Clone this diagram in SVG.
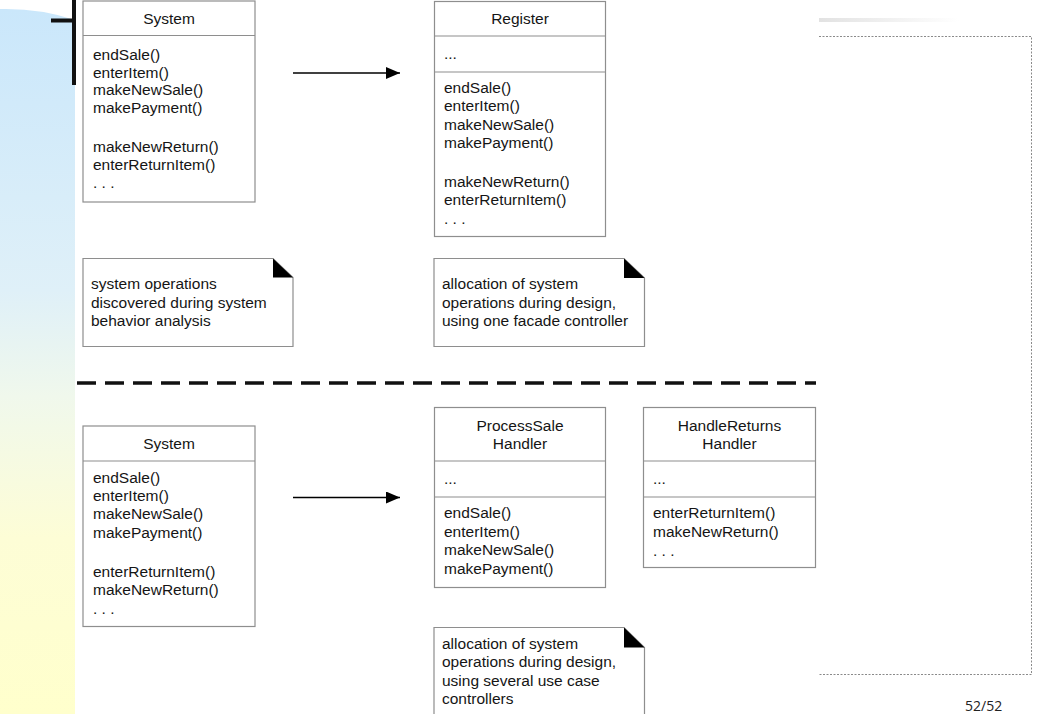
<svg xmlns="http://www.w3.org/2000/svg" width="1037" height="714" viewBox="0 0 1037 714">
<defs>
<linearGradient id="strip" x1="0" y1="0" x2="0" y2="1">
<stop offset="0" stop-color="#cae7fb"/>
<stop offset="0.4" stop-color="#dff0f8"/>
<stop offset="0.55" stop-color="#f0f8ec"/>
<stop offset="0.75" stop-color="#fdfdd6"/>
<stop offset="1" stop-color="#ffffcc"/>
</linearGradient>
<linearGradient id="bar" x1="0" y1="0" x2="1" y2="0">
<stop offset="0" stop-color="#e2e2e2"/>
<stop offset="1" stop-color="#ffffff"/>
</linearGradient>
<marker id="arr" viewBox="0 0 14 12" refX="14" refY="6" markerWidth="14" markerHeight="12" markerUnits="userSpaceOnUse" orient="auto">
<path d="M0,0 L14,6 L0,12 Z" fill="#000"/>
</marker>
<style>
.box{fill:#fff;stroke:#8e8e8e;stroke-width:1.2}
.div{stroke:#8e8e8e;stroke-width:1.2}
.t{font-family:"Liberation Sans",Arial,sans-serif;font-size:15.5px;fill:#151515}
.c{text-anchor:middle}
.fold{fill:#000}
.frame{fill:none;stroke:#8a8a8a;stroke-width:1;stroke-dasharray:2 1.5}
</style>
</defs>
<rect width="1037" height="714" fill="#fff"/>
<path d="M0,9 Q40,8 75,20 L75,714 L0,714 Z" fill="url(#strip)"/>
<rect x="819" y="18" width="140" height="4" fill="url(#bar)"/>
<path class="frame" d="M819,36.5 L1031.5,36.5 L1031.5,674.5 L819,674.5"/>
<path d="M51,20.5 L74,20.5 M74,0 L74,85" stroke="#111" stroke-width="4" fill="none"/>

<g id="system-top">
<rect class="box" x="83" y="1" width="172" height="201"/>
<line class="div" x1="83" y1="35.5" x2="255" y2="35.5"/>
<text class="t c" x="169" y="23.5">System</text>
<text class="t" x="93" y="60">endSale()</text>
<text class="t" x="93" y="77.5">enterItem()</text>
<text class="t" x="93" y="95">makeNewSale()</text>
<text class="t" x="93" y="112.5">makePayment()</text>
<text class="t" x="93" y="152">makeNewReturn()</text>
<text class="t" x="93" y="169.5">enterReturnItem()</text>
<text class="t" x="93" y="188">. . .</text>
</g>

<g id="register">
<rect class="box" x="434.5" y="1.5" width="171" height="235"/>
<line class="div" x1="434.5" y1="36" x2="605.5" y2="36"/>
<line class="div" x1="434.5" y1="72" x2="605.5" y2="72"/>
<text class="t c" x="520" y="23.5">Register</text>
<text class="t" x="444" y="59">...</text>
<text class="t" x="444" y="93">endSale()</text>
<text class="t" x="444" y="111">enterItem()</text>
<text class="t" x="444" y="129.5">makeNewSale()</text>
<text class="t" x="444" y="148">makePayment()</text>
<text class="t" x="444" y="186.5">makeNewReturn()</text>
<text class="t" x="444" y="205">enterReturnItem()</text>
<text class="t" x="444" y="224">. . .</text>
</g>

<g id="note-analysis">
<path class="box" d="M83,258.5 L273,258.5 L293,277.5 L293,346.5 L83,346.5 Z"/>
<path class="fold" d="M273,258.5 L293,277.5 L273,277.5 Z"/>
<text class="t" x="91" y="289">system operations</text>
<text class="t" x="91" y="307.5">discovered during system</text>
<text class="t" x="91" y="326">behavior analysis</text>
</g>

<g id="note-facade">
<path class="box" d="M434,258.5 L624,258.5 L644.5,278 L644.5,346.5 L434,346.5 Z"/>
<path class="fold" d="M624,258.5 L644.5,278 L624,278 Z"/>
<text class="t" x="442" y="289">allocation of system</text>
<text class="t" x="442" y="307.5">operations during design,</text>
<text class="t" x="442" y="326">using one facade controller</text>
</g>

<g id="separator">
<line x1="77" y1="383" x2="816" y2="383" stroke="#111" stroke-width="3.5" stroke-dasharray="19 9"/>
</g>

<g id="system-bottom">
<rect class="box" x="83" y="426" width="172" height="200.5"/>
<line class="div" x1="83" y1="461" x2="255" y2="461"/>
<text class="t c" x="169" y="448.5">System</text>
<text class="t" x="93" y="482.5">endSale()</text>
<text class="t" x="93" y="500.5">enterItem()</text>
<text class="t" x="93" y="519">makeNewSale()</text>
<text class="t" x="93" y="537.5">makePayment()</text>
<text class="t" x="93" y="576.5">enterReturnItem()</text>
<text class="t" x="93" y="595">makeNewReturn()</text>
<text class="t" x="93" y="613.5">. . .</text>
</g>

<g id="processsale-handler">
<rect class="box" x="434.5" y="407.5" width="171" height="180"/>
<line class="div" x1="434.5" y1="461" x2="605.5" y2="461"/>
<line class="div" x1="434.5" y1="497" x2="605.5" y2="497"/>
<text class="t c" x="520" y="430.5">ProcessSale</text>
<text class="t c" x="520" y="448.5">Handler</text>
<text class="t" x="444" y="484">...</text>
<text class="t" x="444" y="518">endSale()</text>
<text class="t" x="444" y="536.5">enterItem()</text>
<text class="t" x="444" y="555">makeNewSale()</text>
<text class="t" x="444" y="573.5">makePayment()</text>
</g>

<g id="handlereturns-handler">
<rect class="box" x="643.5" y="407.5" width="172" height="160"/>
<line class="div" x1="643.5" y1="461" x2="815.5" y2="461"/>
<line class="div" x1="643.5" y1="497" x2="815.5" y2="497"/>
<text class="t c" x="729.5" y="430.5">HandleReturns</text>
<text class="t c" x="729.5" y="448.5">Handler</text>
<text class="t" x="653" y="484">...</text>
<text class="t" x="653" y="518">enterReturnItem()</text>
<text class="t" x="653" y="536.5">makeNewReturn()</text>
<text class="t" x="653" y="555.5">. . .</text>
</g>

<g id="note-usecase">
<path class="box" d="M434,716 L434,627.5 L624,627.5 L644.5,647.5 L644.5,716"/>
<path class="fold" d="M624,627.5 L644.5,647.5 L624,647.5 Z"/>
<text class="t" x="442" y="648.5">allocation of system</text>
<text class="t" x="442" y="667">operations during design,</text>
<text class="t" x="442" y="685.5">using several use case</text>
<text class="t" x="442" y="704">controllers</text>
</g>

<g id="connectors">
<line x1="293" y1="73" x2="400" y2="73" stroke="#000" stroke-width="1.6" marker-end="url(#arr)"/>
<line x1="293" y1="497.5" x2="400" y2="497.5" stroke="#000" stroke-width="1.6" marker-end="url(#arr)"/>
</g>

<text x="965" y="711" font-family="'Open Sans','Liberation Sans',sans-serif" font-size="14" fill="#222">52/52</text>
</svg>
